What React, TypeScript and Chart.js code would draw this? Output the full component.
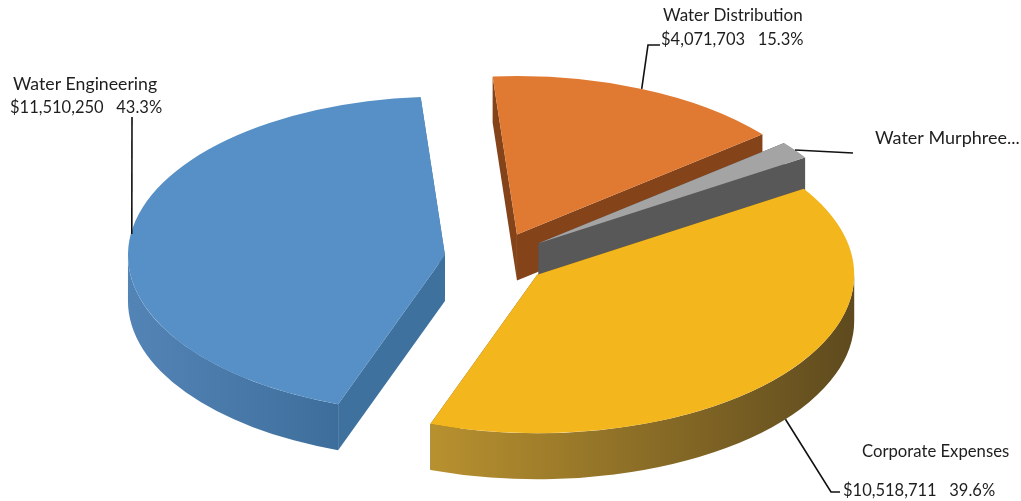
import React, { useEffect, useRef } from "react";
import { Chart, registerables } from "chart.js";

Chart.register(...registerables);

// Budget by division, listed clockwise from the top of the pie.
const categories = ["Water Distribution", "Water Murphree...", "Corporate Expenses", "Water Engineering"];
const budgets = [4071703, 478000, 10518711, 11510250];
const valueLabels = ["$4,071,703   15.3%", "", "$10,518,711   39.6%", "$11,510,250   43.3%"];
const topColors = ["#E07A33", "#A4A4A4", "#F3B61C", "#5690C6"];
const wallColors = ["#85431A", "#585858", "#6A5220", "#3F719E"];
const curvedWallStops = [
  ["#85431A", "#85431A"],
  ["#585858", "#585858"],
  ["#B8912F", "#5E4A1E"],
  ["#5384B6", "#3D6E9B"],
];

const TILT = 0.5; // vertical squash of the pie plane
const DEPTH = 46; // extrusion height in pixels
const EXPLODE = 52; // distance each slice moves out from the centre
const RADIUS = 317;
const ROTATION = -4.4;
const VALUE_FONT = '16.5px Lato, "Noto Sans", sans-serif';
const nameSizes = [17, 18, 16.7, 17.7];

// Back-to-front paint order of the slices.
const paintOrder = [0, 1, 2, 3];

function sliceGeometry(arc: any) {
  const { x, y, startAngle, endAngle, outerRadius } = arc.getProps(
    ["x", "y", "startAngle", "endAngle", "outerRadius"],
    true
  );
  const mid = (startAngle + endAngle) / 2;
  return {
    cy: y,
    dx: Math.cos(mid) * EXPLODE,
    dy: Math.sin(mid) * EXPLODE,
    ax: x + Math.cos(mid) * EXPLODE,
    ay: y + Math.sin(mid) * EXPLODE * TILT,
    r: outerRadius,
    startAngle,
    endAngle,
    mid,
  };
}

function rimPoint(g: ReturnType<typeof sliceGeometry>, angle: number) {
  return { x: g.ax + Math.cos(angle) * g.r, y: g.ay + Math.sin(angle) * g.r * TILT };
}

function drawRadialWall(ctx: CanvasRenderingContext2D, g: ReturnType<typeof sliceGeometry>, angle: number) {
  const p = rimPoint(g, angle);
  ctx.beginPath();
  ctx.moveTo(g.ax, g.ay);
  ctx.lineTo(p.x, p.y);
  ctx.lineTo(p.x, p.y + DEPTH);
  ctx.lineTo(g.ax, g.ay + DEPTH);
  ctx.closePath();
  ctx.fill();
}

function drawCurvedWall(ctx: CanvasRenderingContext2D, g: ReturnType<typeof sliceGeometry>, stops: string[]) {
  // Only the part of the rim that faces the viewer needs a wall.
  for (const k of [-1, 0, 1]) {
    const a = Math.max(g.startAngle, k * 2 * Math.PI);
    const b = Math.min(g.endAngle, k * 2 * Math.PI + Math.PI);
    if (b <= a) continue;
    const xs = [rimPoint(g, a).x, rimPoint(g, b).x];
    const gradient = ctx.createLinearGradient(Math.min(...xs), 0, Math.max(...xs), 0);
    gradient.addColorStop(0, stops[0]);
    gradient.addColorStop(1, stops[1]);
    ctx.fillStyle = gradient;
    ctx.beginPath();
    ctx.ellipse(g.ax, g.ay, g.r, g.r * TILT, 0, a, b);
    ctx.ellipse(g.ax, g.ay + DEPTH, g.r, g.r * TILT, 0, b, a, true);
    ctx.closePath();
    ctx.fill();
  }
}

// Replaces the flat dataset draw: each slice gets its walls, then its lid.
const extrudedPie = {
  id: "extrudedPie",
  beforeDatasetsDraw(chart: any) {
    const { ctx } = chart;
    const arcs = chart.getDatasetMeta(0).data;
    for (const i of paintOrder) {
      const arc = arcs[i];
      const g = sliceGeometry(arc);
      ctx.save();
      ctx.fillStyle = wallColors[i];
      drawRadialWall(ctx, g, g.startAngle);
      drawRadialWall(ctx, g, g.endAngle);
      drawCurvedWall(ctx, g, curvedWallStops[i]);
      ctx.translate(0, g.cy);
      ctx.scale(1, TILT);
      ctx.translate(g.dx, g.dy - g.cy);
      arc.draw(ctx);
      ctx.restore();
    }
    return false;
  },
};

// Leader routes start at each slice's rim; the remaining points lead to the text.
const leaderRoutes = [
  { drop: 0, inset: 0, points: [[648, 45], [660, 45]] },
  { drop: 0, inset: 0, points: [[853, 153]] },
  { drop: DEPTH, inset: 0, points: [[831, 492], [840, 492]] },
  { drop: 0, inset: 1, points: [[132, 117]] },
];
const labelSpots = [
  { x: 663, nameY: 16, valueX: 661, valueY: 40 },
  { x: 875, nameY: 138, valueX: 875, valueY: 138 },
  { x: 862, nameY: 452, valueX: 843, valueY: 491 },
  { x: 13, nameY: 84, valueX: 10, valueY: 108 },
];

const calloutLabels = {
  id: "calloutLabels",
  afterDraw(chart: any) {
    const { ctx } = chart;
    const arcs = chart.getDatasetMeta(0).data;
    ctx.save();
    ctx.strokeStyle = "#111111";
    ctx.lineWidth = 1.6;
    arcs.forEach((arc: any, i: number) => {
      const g = sliceGeometry(arc);
      const start = rimPoint(g, g.mid);
      const route = leaderRoutes[i];
      ctx.beginPath();
      ctx.moveTo(start.x + route.inset, start.y + route.drop);
      route.points.forEach(([x, y]) => ctx.lineTo(x, y));
      ctx.stroke();
    });
    ctx.fillStyle = "#1E1E1E";
    ctx.textBaseline = "middle";
    categories.forEach((name, i) => {
      const spot = labelSpots[i];
      ctx.font = `${nameSizes[i]}px Lato, "Noto Sans", sans-serif`;
      ctx.fillText(name, spot.x, spot.nameY);
      ctx.font = VALUE_FONT;
      if (valueLabels[i]) ctx.fillText(valueLabels[i], spot.valueX, spot.valueY);
    });
    ctx.restore();
  },
};

export default function App() {
  const canvasRef = useRef<HTMLCanvasElement>(null);

  useEffect(() => {
    const chart = new Chart(canvasRef.current!, {
      type: "pie",
      data: {
        labels: categories,
        datasets: [
          {
            data: budgets,
            backgroundColor: topColors,
            borderWidth: 0,
          },
        ],
      },
      options: {
        responsive: false,
        animation: false,
        events: [],
        rotation: ROTATION,
        radius: RADIUS,
        layout: { padding: { right: 28, top: 16 } },
        plugins: { legend: { display: false }, tooltip: { enabled: false } },
      },
      plugins: [extrudedPie, calloutLabels],
    } as any);
    return () => chart.destroy();
  }, []);

  return (
    <div style={{ position: "absolute", left: 0, top: 0, width: 1021, height: 501, background: "#FFFFFF" }}>
      <canvas ref={canvasRef} width={1021} height={501} style={{ display: "block" }} />
    </div>
  );
}
